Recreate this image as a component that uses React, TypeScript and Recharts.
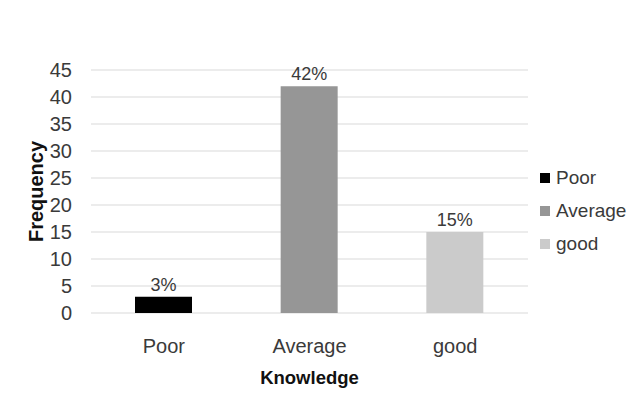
import { BarChart, Bar, XAxis, YAxis, CartesianGrid, Cell, LabelList, Legend } from 'recharts'

const categories = ['Poor', 'Average', 'good']
const frequency = [3, 42, 15]
const yTicks = [0, 5, 10, 15, 20, 25, 30, 35, 40, 45]
const barColors = ['#000000', '#969696', '#cbcbcb']

const FONT = '"Liberation Sans", Arial, sans-serif'
const TEXT = '#3a3a3a'

const data = categories.map((name, i) => ({ name, value: frequency[i] }))

// Legend lists the categories, since each bar is coloured by its own point
function CategoryLegend() {
  return (
    <div style={{ fontFamily: FONT, fontSize: 19, color: TEXT }}>
      {categories.map((name, i) => (
        <div key={name} style={{ display: 'flex', alignItems: 'center', height: 33 }}>
          <span style={{ width: 10, height: 10, background: barColors[i], marginRight: 6 }} />
          <span>{name}</span>
        </div>
      ))}
    </div>
  )
}

export default function App() {
  return (
    <div style={{ position: 'absolute', left: 0, top: 0, background: '#fff' }}>
      <BarChart
        width={634}
        height={411}
        data={data}
        margin={{ top: 70, right: 106, left: 31, bottom: 20 }}
      >
        <CartesianGrid vertical={false} stroke="#d9d9d9" />
        <XAxis
          dataKey="name"
          height={78}
          axisLine={false}
          tickLine={false}
          tickSize={0}
          tickMargin={26}
          tick={{ fill: TEXT, fontSize: 20, fontFamily: FONT }}
          label={{
            value: 'Knowledge',
            position: 'insideBottom',
            offset: 7,
            style: { fill: '#111', fontSize: 18.5, fontWeight: 'bold', fontFamily: FONT },
          }}
        />
        <YAxis
          width={60}
          domain={[0, 45]}
          ticks={yTicks}
          interval={0}
          axisLine={false}
          tickLine={false}
          tickSize={0}
          tickMargin={19}
          tick={{ fill: TEXT, fontSize: 20, fontFamily: FONT }}
          label={{
            value: 'Frequency',
            angle: -90,
            position: 'insideLeft',
            offset: 5,
            style: { textAnchor: 'middle', fill: '#111', fontSize: 20, fontWeight: 'bold', fontFamily: FONT },
          }}
        />
        <Legend
          layout="horizontal"
          align="center"
          verticalAlign="middle"
          content={<CategoryLegend />}
          wrapperStyle={{ left: 540, top: 161, width: 94, height: 100 }}
        />
        <Bar dataKey="value" barSize={57} isAnimationActive={false}>
          {data.map((d, i) => (
            <Cell key={d.name} fill={barColors[i]} />
          ))}
          <LabelList
            dataKey="value"
            position="top"
            offset={6}
            formatter={(v: any) => `${v}%`}
            style={{ fill: TEXT, fontSize: 18, fontFamily: FONT }}
          />
        </Bar>
      </BarChart>
    </div>
  )
}
